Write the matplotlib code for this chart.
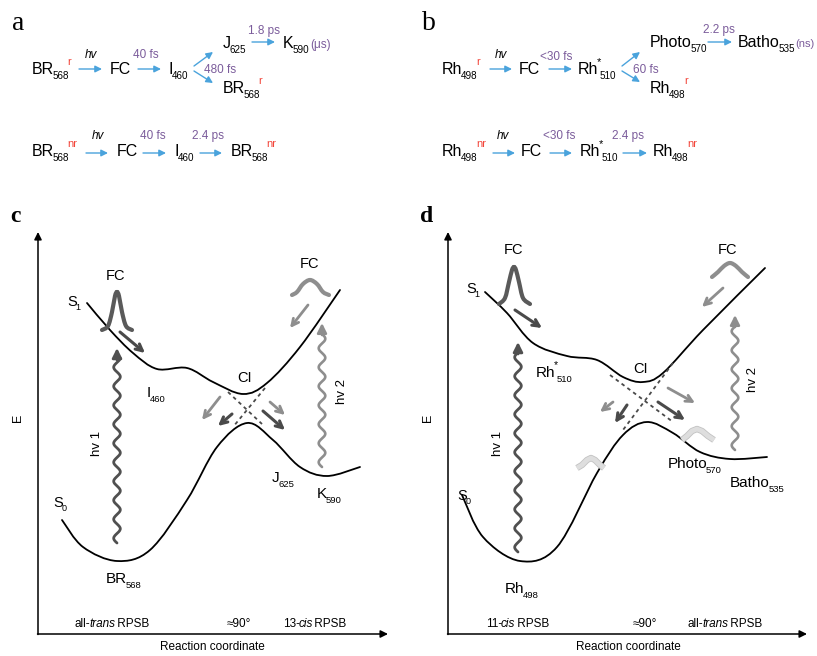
import numpy as np
import matplotlib
matplotlib.use('Agg')
import matplotlib.pyplot as plt
from matplotlib.path import Path
from matplotlib.patches import PathPatch
import matplotlib.patheffects as pe

plt.rcParams['font.family'] = ['Liberation Sans', 'DejaVu Sans']

# potential energy curves (pixel coords of the schematic, y down)
c_s1 = [(87, 303), (110, 330), (133, 353), (157, 369), (187, 368), (213, 382),
        (243, 394), (267, 383), (300, 347), (340, 290)]
c_s0 = [(62, 520), (83, 547), (117, 561), (150, 550), (187, 500), (217, 447),
        (247, 423), (273, 440), (300, 467), (327, 476), (360, 467)]
d_s1 = [(485, 292), (507, 313), (533, 343), (567, 356), (597, 360), (623, 377),
        (643, 382), (663, 373), (703, 330), (765, 268)]
d_s0 = [(462, 495), (483, 537), (520, 561), (557, 547), (597, 473), (623, 435),
        (647, 422), (673, 433), (700, 452), (730, 459), (767, 457)]

# wavepackets
c_fc1 = [(102, 330), (108, 326), (112, 312), (115, 296), (117, 292), (119, 296),
         (122, 312), (126, 326), (132, 330)]
c_fc2 = [(292, 295), (297, 292), (303, 284), (310, 280), (317, 284), (323, 292), (329, 295)]
d_fc1 = [(499, 304), (505, 298), (509, 282), (512, 270), (514, 267), (516, 270),
         (519, 282), (523, 298), (530, 304)]
d_fc2 = [(712, 277), (718, 272), (724, 266), (730, 263), (736, 266), (742, 272), (748, 277)]
d_hot1 = [(577, 468), (582, 465), (587, 460), (591, 458), (595, 460), (600, 465), (604, 468)]
d_hot2 = [(682, 440), (687, 436), (692, 431), (697, 429), (702, 431), (708, 436), (714, 440)]

PURPLE = '#7b5c9b'
RED = '#f2453a'
BLUE = '#4aa3dc'
DARK = '#4a4a4a'
LIGHT = '#8e8e8e'

fig = plt.figure(figsize=(8.17, 6.56), dpi=100)
ax = fig.add_axes([0, 0, 1, 1])
ax.set_xlim(0, 817)
ax.set_ylim(656, 0)
ax.axis('off')
renderer = fig.canvas.get_renderer()


def smooth(pts, **kw):
    # catmull-rom through the anchor points, drawn as bezier path
    p = np.array(pts, dtype=float)
    verts = [p[0]]
    codes = [Path.MOVETO]
    for i in range(len(p) - 1):
        p0 = p[i - 1] if i > 0 else p[i]
        p1, p2 = p[i], p[i + 1]
        p3 = p[i + 2] if i + 2 < len(p) else p[i + 1]
        verts += [p1 + (p2 - p0) / 6, p2 - (p3 - p1) / 6, p2]
        codes += [Path.CURVE4] * 3
    ax.add_patch(PathPatch(Path(verts, codes), fill=False, capstyle='round', **kw))


def arrow(x0, y0, x1, y1, color='black', lw=1.0, style='-|>', ms=10):
    ax.annotate('', xy=(x1, y1), xytext=(x0, y0),
                arrowprops=dict(arrowstyle=style, color=color, lw=lw,
                                shrinkA=0, shrinkB=0, mutation_scale=ms))


def chem(x, y, parts, size=11.5):
    # parts: (text, kind[, color]) ; kind n=normal b=sub p=sup i=italic
    for part in parts:
        txt, kind = part[0], part[1]
        col = part[2] if len(part) > 2 else 'black'
        fs, dy, style = size, 0, 'normal'
        if kind == 'b':
            fs, dy = size * 0.62, size * 0.42
        elif kind == 'p':
            fs, dy = size * 0.7, -size * 0.8
        elif kind == 'i':
            style = 'italic'
        t = ax.text(x, y + dy, txt, fontsize=fs, color=col, ha='left',
                    va='baseline', fontstyle=style)
        x += t.get_window_extent(renderer).width - 1.5
    return x


def wavy(x0, y0, y1, color, lw):
    ys = np.linspace(y0, y1 + 10, 300)
    xs = x0 + 3.3 * np.sin(2 * np.pi * (ys - y0) / 19)
    ax.plot(xs, ys, color=color, lw=lw, solid_capstyle='round')
    arrow(x0, y1 + 12, x0, y1, color=color, lw=lw, ms=14)


# ---------- panel a ----------
ax.text(12, 30, 'a', fontsize=20, family='Liberation Serif')
chem(32, 74, [('BR', 'n'), ('568', 'b'), ('r', 'p', RED)])
arrow(79, 69, 102, 69, BLUE)
ax.text(85, 58, 'hv', fontsize=8.5, fontstyle='italic')
chem(110, 74, [('FC', 'n')])
ax.text(133, 58, '40 fs', fontsize=8.5, color=PURPLE)
arrow(138, 69, 161, 69, BLUE)
chem(169, 74, [('I', 'n'), ('460', 'b')])
arrow(194, 66, 213, 52, BLUE)
arrow(194, 71, 213, 83, BLUE)
ax.text(204, 73, '480 fs', fontsize=8.5, color=PURPLE)
chem(223, 48, [('J', 'n'), ('625', 'b')])
ax.text(248, 34, '1.8 ps', fontsize=8.5, color=PURPLE)
arrow(252, 42, 275, 42, BLUE)
xe = chem(283, 48, [('K', 'n'), ('590', 'b')])
ax.text(xe + 3, 48, '(\u03bcs)', fontsize=8.5, color=PURPLE)
chem(223, 93, [('BR', 'n'), ('568', 'b'), ('r', 'p', RED)])

chem(32, 156, [('BR', 'n'), ('568', 'b'), ('nr', 'p', RED)])
ax.text(92, 139, 'hv', fontsize=8.5, fontstyle='italic')
arrow(86, 153, 108, 153, BLUE)
chem(117, 156, [('FC', 'n')])
ax.text(140, 139, '40 fs', fontsize=8.5, color=PURPLE)
arrow(143, 153, 166, 153, BLUE)
chem(175, 156, [('I', 'n'), ('460', 'b')])
ax.text(192, 139, '2.4 ps', fontsize=8.5, color=PURPLE)
arrow(200, 153, 222, 153, BLUE)
chem(231, 156, [('BR', 'n'), ('568', 'b'), ('nr', 'p', RED)])

# ---------- panel b ----------
ax.text(422, 30, 'b', fontsize=20, family='Liberation Serif')
chem(442, 74, [('Rh', 'n'), ('498', 'b'), ('r', 'p', RED)])
arrow(490, 69, 512, 69, BLUE)
ax.text(495, 58, 'hv', fontsize=8.5, fontstyle='italic')
chem(519, 74, [('FC', 'n')])
ax.text(540, 60, '<30 fs', fontsize=8.5, color=PURPLE)
arrow(549, 69, 572, 69, BLUE)
chem(578, 74, [('Rh', 'n'), ('*', 'p'), ('510', 'b')])
arrow(622, 66, 640, 52, BLUE)
arrow(622, 71, 640, 82, BLUE)
ax.text(633, 73, '60 fs', fontsize=8.5, color=PURPLE)
chem(650, 47, [('Photo', 'n'), ('570', 'b')])
ax.text(703, 33, '2.2 ps', fontsize=8.5, color=PURPLE)
arrow(708, 42, 732, 42, BLUE)
xe = chem(738, 47, [('Batho', 'n'), ('535', 'b')])
ax.text(xe + 2, 47, '(ns)', fontsize=8, color=PURPLE)
chem(650, 93, [('Rh', 'n'), ('498', 'b'), ('r', 'p', RED)])

chem(442, 156, [('Rh', 'n'), ('498', 'b'), ('nr', 'p', RED)])
ax.text(497, 139, 'hv', fontsize=8.5, fontstyle='italic')
arrow(493, 153, 515, 153, BLUE)
chem(521, 156, [('FC', 'n')])
ax.text(543, 139, '<30 fs', fontsize=8.5, color=PURPLE)
arrow(550, 153, 572, 153, BLUE)
chem(580, 156, [('Rh', 'n'), ('*', 'p'), ('510', 'b')])
ax.text(612, 139, '2.4 ps', fontsize=8.5, color=PURPLE)
arrow(623, 153, 647, 153, BLUE)
chem(653, 156, [('Rh', 'n'), ('498', 'b'), ('nr', 'p', RED)])

# ---------- panel c ----------
ax.text(10, 222, 'c', fontsize=17, family='Liberation Serif', fontweight='bold')
arrow(38, 634.5, 38, 232, 'black', lw=1.1, ms=11)
arrow(37.5, 634, 388, 634, 'black', lw=1.1, ms=11)
ax.text(18, 418, 'E', fontsize=9, rotation=90, ha='center', va='center')
ax.text(212, 647, 'Reaction coordinate', fontsize=8.5, ha='center', va='center')
smooth(c_s1, color='black', lw=1.3)
smooth(c_s0, color='black', lw=1.3)
ax.plot([228, 262], [392, 424], ls=(0, (2, 2)), color=DARK, lw=1.3)
ax.plot([265, 233], [388, 427], ls=(0, (2, 2)), color=DARK, lw=1.3)
smooth(c_fc1, color='#5a5a5a', lw=3)
smooth(c_fc2, color=LIGHT, lw=3)
arrow(120, 332, 145, 353, DARK, lw=2.2, style='->', ms=12)
arrow(308, 305, 290, 328, LIGHT, lw=2, style='->', ms=12)
arrow(220, 397, 202, 420, LIGHT, lw=2, style='->', ms=12)
arrow(232, 414, 218, 426, DARK, lw=2.2, style='->', ms=12)
arrow(270, 402, 285, 415, LIGHT, lw=2, style='->', ms=12)
arrow(263, 411, 285, 430, DARK, lw=2.2, style='->', ms=12)
wavy(117, 543, 348, '#505050', 2.0)
wavy(322, 467, 323, LIGHT, 1.9)
ax.text(97, 443, 'hv 1', fontsize=9.5, rotation=90, ha='center', va='center')
ax.text(342, 392, 'hv 2', fontsize=9.5, rotation=90, ha='center', va='center')
chem(67, 306, [('S', 'n'), ('1', 'b')], size=10.5)
chem(53, 507, [('S', 'n'), ('0', 'b')], size=10.5)
chem(106, 280, [('FC', 'n')], size=10.5)
chem(300, 268, [('FC', 'n')], size=10.5)
chem(147, 397, [('I', 'n'), ('460', 'b')], size=11)
chem(237, 382, [('CI', 'n')], size=10.5)
chem(272, 482, [('J', 'n'), ('625', 'b')], size=11)
chem(317, 498, [('K', 'n'), ('590', 'b')], size=11)
chem(106, 583, [('BR', 'n'), ('568', 'b')], size=11)
chem(75, 627, [('all-', 'n'), ('trans', 'i'), (' RPSB', 'n')], size=8.5)
chem(227, 627, [('\u224890\u00b0', 'n')], size=8.5)
chem(283, 627, [('13-', 'n'), ('cis', 'i'), (' RPSB', 'n')], size=8.5)

# ---------- panel d ----------
ax.text(420, 222, 'd', fontsize=17, family='Liberation Serif', fontweight='bold')
arrow(448, 634.5, 448, 232, 'black', lw=1.1, ms=11)
arrow(447.5, 634, 807, 634, 'black', lw=1.1, ms=11)
ax.text(428, 418, 'E', fontsize=9, rotation=90, ha='center', va='center')
ax.text(628, 647, 'Reaction coordinate', fontsize=8.5, ha='center', va='center')
smooth(d_s1, color='black', lw=1.3)
smooth(d_s0, color='black', lw=1.3)
ax.plot([610, 673], [375, 422], ls=(0, (2, 2)), color=DARK, lw=1.3)
ax.plot([673, 623], [363, 430], ls=(0, (2, 2)), color=DARK, lw=1.3)
glow = [pe.Stroke(linewidth=4.6, foreground='#c2c2c2'), pe.Normal()]
for pk in (d_hot1, d_hot2):
    p = np.array(pk, dtype=float)
    ax.plot(p[:, 0], p[:, 1], color='#dedede', lw=3.4, solid_capstyle='butt',
            path_effects=glow)
smooth(d_fc1, color='#5a5a5a', lw=3)
smooth(d_fc2, color=LIGHT, lw=3)
arrow(515, 310, 542, 328, DARK, lw=2.2, style='->', ms=12)
arrow(723, 288, 702, 307, LIGHT, lw=2, style='->', ms=12)
arrow(613, 402, 600, 412, LIGHT, lw=2, style='->', ms=12)
arrow(627, 405, 615, 423, DARK, lw=2.2, style='->', ms=12)
arrow(668, 388, 695, 403, LIGHT, lw=2, style='->', ms=12)
arrow(658, 402, 685, 420, DARK, lw=2.2, style='->', ms=12)
wavy(518, 552, 342, '#505050', 2.0)
wavy(735, 450, 315, LIGHT, 1.9)
ax.text(498, 443, 'hv 1', fontsize=9.5, rotation=90, ha='center', va='center')
ax.text(753, 380, 'hv 2', fontsize=9.5, rotation=90, ha='center', va='center')
chem(466, 293, [('S', 'n'), ('1', 'b')], size=10.5)
chem(457, 500, [('S', 'n'), ('0', 'b')], size=10.5)
chem(504, 254, [('FC', 'n')], size=10.5)
chem(718, 254, [('FC', 'n')], size=10.5)
chem(536, 377, [('Rh', 'n'), ('*', 'p'), ('510', 'b')], size=11)
chem(633, 373, [('CI', 'n')], size=10.5)
chem(668, 468, [('Photo', 'n'), ('570', 'b')], size=11)
chem(730, 487, [('Batho', 'n'), ('535', 'b')], size=11)
chem(505, 593, [('Rh', 'n'), ('498', 'b')], size=11)
chem(486, 627, [('11-', 'n'), ('cis', 'i'), (' RPSB', 'n')], size=8.5)
chem(633, 627, [('\u224890\u00b0', 'n')], size=8.5)
chem(688, 627, [('all-', 'n'), ('trans', 'i'), (' RPSB', 'n')], size=8.5)

plt.savefig('out.png', dpi=100)
